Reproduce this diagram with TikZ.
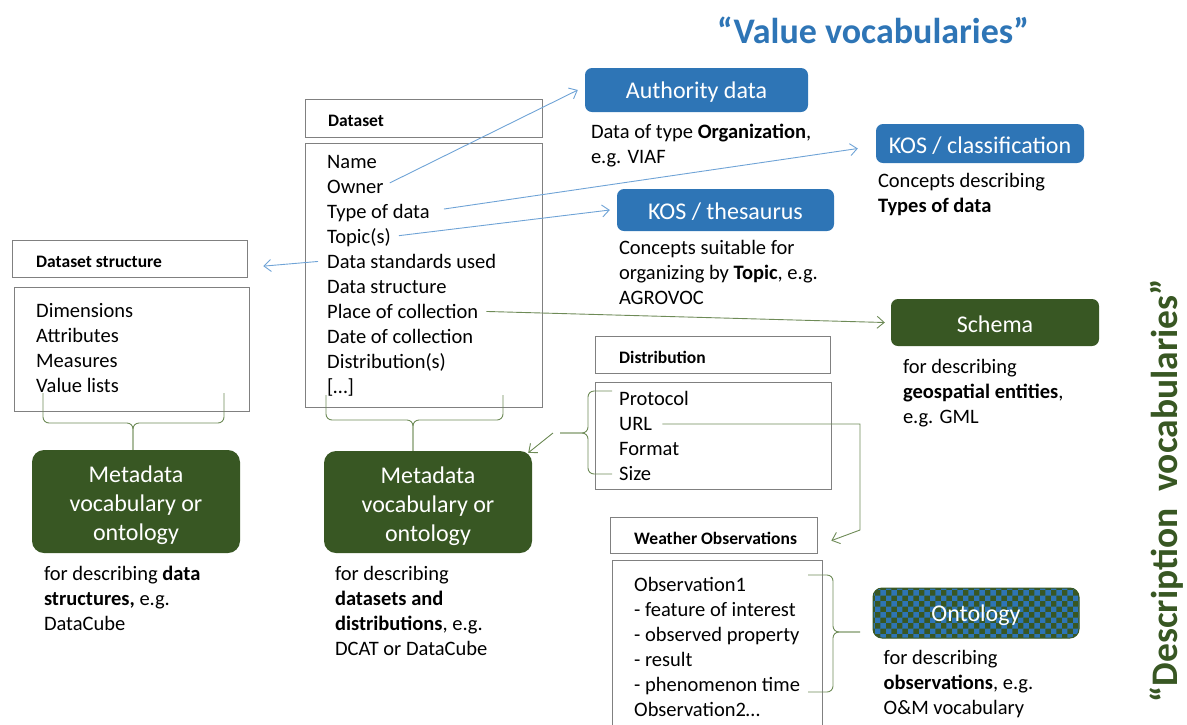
\documentclass[tikz,border=0pt]{standalone}
\usepackage{fontspec}
\setmainfont{Carlito}
\usepackage{xcolor}
\usepackage{tikz}
\usetikzlibrary{arrows.meta, positioning, patterns}

\definecolor{vblue}{HTML}{2E75B6}
\definecolor{dgreen}{HTML}{385723}
\definecolor{lblue}{HTML}{6FA3D6}
\definecolor{lgreen}{HTML}{6E8B57}
\definecolor{boxgray}{HTML}{808080}

\newcommand{\bodyfont}{\fontsize{20.5}{25}\selectfont}
\newcommand{\hdrfont}{\fontsize{17.5}{21}\selectfont\bfseries}
\newcommand{\boxfont}{\fontsize{24}{29}\selectfont}
\newcommand{\bigfont}{\fontsize{36}{43}\selectfont\bfseries}

\begin{document}
\begin{tikzpicture}[x=1pt, y=-1pt,
    frame/.style={rectangle, draw=boxgray, line width=1.3pt, anchor=north west, inner sep=0},
    hdr/.style={font=\hdrfont, inner sep=0, yshift=-2.5pt},
    item/.style={font=\bodyfont, anchor=base west, inner sep=0, yshift=-1.5pt},
    desc/.style={font=\bodyfont, align=left, inner sep=0, execute at begin node=\strut},
    vocab/.style={rectangle, rounded corners=7pt, fill=vblue, text=white, font=\boxfont, execute at begin node=\rule{0pt}{21pt}},
    descvocab/.style={rectangle, rounded corners=12pt, fill=dgreen, text=white, font=\boxfont},
    mtext/.style={text=white, font=\boxfont, align=center, inner sep=0},
    ontbox/.style={rectangle, rounded corners=9pt, draw=dgreen, line width=1pt, preaction={fill=dgreen}, pattern=checkerboard, pattern color=vblue, text=white, font=\boxfont, execute at begin node=\rule{0pt}{21pt}},
    varrow/.style={draw=lblue, line width=0.9pt, -{Straight Barb[length=7pt,width=12pt]}},
    garrow/.style={draw=lgreen, line width=0.9pt, -{Straight Barb[length=7pt,width=12pt]}},
    curly/.style={draw=lgreen, line width=0.9pt, rounded corners=6pt}]

\useasboundingbox (0,0) rectangle (1187,724);

% titles
\node (vvtitle) [font=\bigfont, text=vblue] at (873,30) {“Value vocabularies”};
\node (dvtitle) [font=\fontsize{37.5}{45}\selectfont\bfseries, text=dgreen, rotate=90] at (1167,491) {“Description\ \ vocabularies”};

% value vocabularies
\node (auth) [vocab, minimum width=223pt, minimum height=44pt] at (696.5,90) {Authority data};
\node (authdesc) [desc, below right=11.5pt and 6pt of auth.south west] {Data of type \textbf{Organization},\\e.g. VIAF};
\node (cls) [vocab, minimum width=208pt, minimum height=39pt] at (980,143.5) {KOS / classification};
\node (clsdesc) [desc, below right=9.5pt and 2pt of cls.south west] {Concepts describing\\\textbf{Types of data}};
\node (thes) [vocab, minimum width=217pt, minimum height=42pt] at (725.5,210) {KOS / thesaurus};
\node (thesdesc) [desc, below right=8.5pt and 2pt of thes.south west] {Concepts suitable for\\organizing by \textbf{Topic}, e.g.\\AGROVOC};

% description vocabularies
\node (schema) [descvocab, rounded corners=7pt, minimum width=208pt, minimum height=47pt] at (995,322.5) {\rule{0pt}{21pt}Schema};
\node (schemadesc) [desc, below right=13pt and 12pt of schema.south west] {for describing\\\textbf{geospatial entities},\\e.g. GML};
\node (mv1) [descvocab, minimum width=208pt, minimum height=103pt] at (136,501.5) {};
\node (mv1txt) [mtext] at ([yshift=-4pt]mv1.center) {Metadata\\vocabulary or\\ontology};
\node (mv1desc) [desc, below right=12.5pt and 12pt of mv1.south west] {for describing \textbf{data}\\\textbf{structures,} e.g.\\DataCube};
\node (mv2) [descvocab, minimum width=208pt, minimum height=102pt] at (428,502) {};
\node (mv2txt) [mtext] at ([yshift=-4pt]mv2.center) {Metadata\\vocabulary or\\ontology};
\node (mv2desc) [desc, below right=12.5pt and 11pt of mv2.south west] {for describing\\\textbf{datasets and}\\\textbf{distributions}, e.g.\\DCAT or DataCube};
\node (ont) [ontbox, minimum width=206pt, minimum height=50pt] at (976,613) {Ontology};
\node (ontdesc) [desc, below right=12pt and 11pt of ont.south west] {for describing\\\textbf{observations}, e.g.\\O\&M vocabulary};

% dataset
\node (dshead) [frame, minimum width=237pt, minimum height=38pt] at (305,99) {};
\node (dstitle) [hdr, right=23pt of dshead.west] {Dataset};
\node (dsbody) [frame, minimum width=237pt, minimum height=264pt] at (305,143) {};
\node (dsname) [item] at (327,167) {Name};
\node (owner) [item] at (327,192) {Owner};
\node (dtype) [item] at (327,217) {Type of data};
\node (topic) [item] at (327,242) {Topic(s)};
\node (stds) [item] at (327,267) {Data standards used};
\node (dstruct) [item] at (327,292) {Data structure};
\node (place) [item] at (327,317) {Place of collection};
\node (date) [item] at (327,342) {Date of collection};
\node (distr) [item] at (327,367) {Distribution(s)};
\node (more) [item] at (327,392) {[…]};

% dataset structure
\node (sthead) [frame, minimum width=235pt, minimum height=37pt] at (12,240) {};
\node (sttitle) [hdr, right=24pt of sthead.west] {Dataset structure};
\node (stbody) [frame, minimum width=235pt, minimum height=124pt] at (14,287) {};
\node (dims) [item] at (36,316) {Dimensions};
\node (attrs) [item] at (36,341) {Attributes};
\node (meas) [item] at (36,366) {Measures};
\node (vlists) [item] at (36,391) {Value lists};

% distribution
\node (dihead) [frame, minimum width=235pt, minimum height=37pt] at (595,336) {};
\node (dititle) [hdr, right=24pt of dihead.west] {Distribution};
\node (dibody) [frame, minimum width=236pt, minimum height=107pt] at (595,382) {};
\node (proto) [item] at (619,404) {Protocol};
\node (url) [item] at (619,429) {URL};
\node (fmt) [item] at (619,454) {Format};
\node (size) [item] at (619,479) {Size};

% weather observations
\node (wohead) [frame, minimum width=207pt, minimum height=36pt] at (610,517) {};
\node (wotitle) [hdr, right=24pt of wohead.west] {Weather Observations};
\node (wobody) [frame, minimum width=210pt, minimum height=180pt] at (612,560) {};
\node (obs1) [item] at (634,590) {Observation1};
\node (foi) [item] at (634,615) {- feature of interest};
\node (oprop) [item] at (634,640) {- observed property};
\node (res) [item] at (634,665) {- result};
\node (ptime) [item] at (634,690) {- phenomenon time};
\node (obs2) [item] at (634,715) {Observation2…};

\coordinate (dtip) at (560,433);
\coordinate (wtip) at (860,632);
\coordinate (bend) at (860,530);

% value links
\draw [varrow] ([xshift=6pt,yshift=4pt]owner.east) -- ([xshift=-7pt]auth.west);
\draw [varrow] ([xshift=14pt,yshift=4pt]dtype.east) -- ([xshift=-18pt,yshift=-5pt]cls.west);
\draw [varrow] ([xshift=8pt,yshift=2pt]topic.east) -- ([xshift=-7pt]thes.west);
\draw [varrow] ([xshift=-9pt]stds.west) -- ([xshift=15pt,yshift=-7pt]sthead.east);
\draw [garrow] ([xshift=8pt]place.east) -- ([xshift=-6pt]schema.west);

% braces
\draw [curly] (43,393) -- (43,423) -| ([xshift=-3pt]mv1.north);
\draw [curly] (224,393) -- (224,423) -| ([xshift=-3pt]mv1.north);
\draw [curly] (326,395) -- (326,420) -| ([xshift=-15pt]mv2.north);
\draw [curly] (503,395) -- (503,420) -| ([xshift=-15pt]mv2.north);
\draw [curly] (612,391) -| (588,433) -- (dtip);
\draw [curly] (612,474) -| (588,433) -- (dtip);
\draw [curly] (808,575) -| (833,632) -- (wtip);
\draw [curly] (808,692) -| (833,632) -- (wtip);
\draw [garrow] ([xshift=-7pt]dtip) -- ([xshift=-4pt,yshift=-2pt]mv2.north east);
\draw [garrow] ([xshift=10pt]url.east) -| (bend) -- ([xshift=13pt,yshift=-5pt]wohead.east);

\end{tikzpicture}
\end{document}
